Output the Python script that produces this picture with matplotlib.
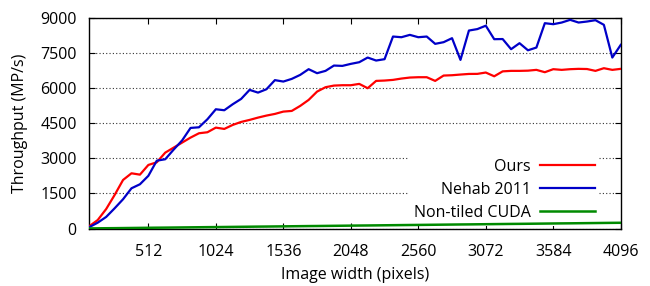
import matplotlib
matplotlib.use("Agg")
import matplotlib.pyplot as plt

widths = [64 * (i + 1) for i in range(64)]

ours = [100, 363, 833, 1431, 2073, 2358, 2300, 2714, 2828, 3240, 3454, 3668,
        3882, 4067, 4110, 4308, 4252, 4423, 4551, 4637, 4736, 4822, 4893, 4992,
        5021, 5235, 5491, 5846, 6033, 6103, 6118, 6118, 6175, 5991, 6303, 6318,
        6346, 6403, 6446, 6460, 6460, 6303, 6531, 6545, 6574, 6600, 6603, 6660,
        6500, 6710, 6731, 6731, 6740, 6774, 6674, 6803, 6774, 6803, 6817, 6810,
        6731, 6845, 6774, 6817]

nehab = [60, 250, 495, 863, 1250, 1718, 1889, 2250, 2897, 2957, 3370, 3760,
         4295, 4322, 4665, 5092, 5050, 5306, 5534, 5919, 5803, 5947, 6335, 6275,
         6389, 6560, 6803, 6632, 6731, 6958, 6944, 7030, 7101, 7300, 7172, 7230,
         8197, 8168, 8268, 8168, 8197, 7885, 7956, 8127, 7200, 8453, 8515, 8660,
         8084, 8090, 7657, 7913, 7610, 7727, 8767, 8724, 8795, 8910, 8795, 8838,
         8895, 8697, 7300, 7842]

nontiled = [4, 8, 12, 15, 19, 23, 27, 31, 35, 38, 42, 46, 50, 54, 58, 61,
            65, 69, 73, 77, 81, 84, 88, 92, 96, 100, 104, 107, 111, 115, 119, 123,
            127, 130, 134, 138, 142, 146, 150, 153, 157, 161, 165, 169, 173, 176, 180, 184,
            188, 192, 196, 199, 203, 207, 211, 215, 219, 222, 226, 230, 234, 238, 242, 245]

xticks = [512, 1024, 1536, 2048, 2560, 3072, 3584, 4096]
yticks = [0, 1500, 3000, 4500, 6000, 7500, 9000]

plt.rcParams['font.family'] = ['Open Sans', 'DejaVu Sans']
FS = 11.5

fig = plt.figure(figsize=(6.5, 2.86), dpi=100)
ax = fig.add_axes([0.1374, 0.201, 0.955 - 0.1374, 0.938 - 0.201])

ax.plot(widths, ours, color='#ff0000', lw=1.6, label='Ours', zorder=4)
ax.plot(widths, nehab, color='#0000c8', lw=1.6, label='Nehab 2011', zorder=4)
ax.plot(widths, nontiled, color='#008a00', lw=1.8, label='Non-tiled CUDA', zorder=4)

ax.set_xlim(64, 4096)
ax.set_ylim(0, 9000)
ax.set_xticks(xticks)
ax.set_yticks(yticks)
ax.tick_params(direction='in', length=4, width=0.8, top=True, right=True,
               labelsize=FS, colors='black')
ax.tick_params(axis='x', pad=11)
ax.tick_params(axis='y', pad=9)
ax.grid(axis='y', linestyle=(0, (1, 2)), color='#333333', lw=0.8, zorder=1)
for s in ax.spines.values():
    s.set_linewidth(1.0)

ax.set_xlabel('Image width (pixels)', fontsize=FS, labelpad=5)
ax.set_ylabel('Throughput (MP/s)', fontsize=FS, labelpad=9)

leg = ax.legend(loc='lower right', bbox_to_anchor=(0.975, -0.025), markerfirst=False,
                frameon=True, fancybox=False, facecolor='white', edgecolor='none',
                framealpha=1.0, fontsize=FS, handlelength=3.4, labelspacing=0.45,
                borderpad=0.3, handletextpad=0.6)
leg.set_zorder(3)
for t in leg.get_texts():
    t.set_ha('right')

fig.savefig('out.png', dpi=100)
